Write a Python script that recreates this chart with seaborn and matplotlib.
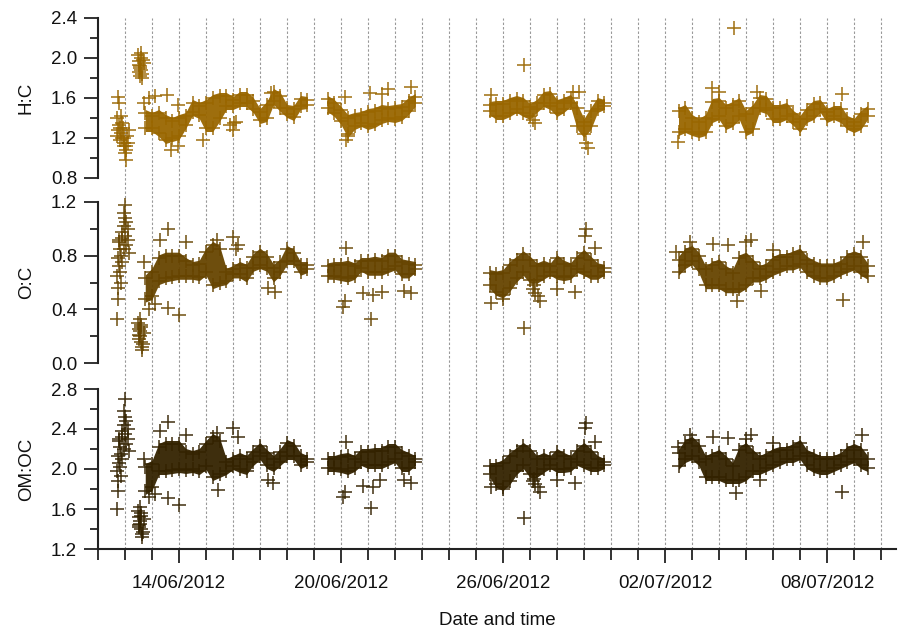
import numpy as np
import pandas as pd
import matplotlib
matplotlib.use("Agg")
import matplotlib.pyplot as plt
import seaborn as sns
from matplotlib.ticker import MultipleLocator, FixedLocator

# ---------------- data (time = days since 11/06/2012 00:00) ----------------
seg_start = [1.75, 8.5, 14.5, 21.5]
seg_end = [7.75, 11.75, 18.75, 28.5]

hc_lo = [1.30, 1.30, 1.25, 1.18, 1.20, 1.22, 1.33, 1.46, 1.43, 1.30, 1.30, 1.40, 1.52,
         1.52, 1.55, 1.55, 1.49, 1.38, 1.40, 1.57, 1.50, 1.44, 1.41, 1.52, 1.53,
         1.50, 1.45, 1.37, 1.24, 1.32, 1.35, 1.32, 1.34, 1.38, 1.40, 1.39, 1.41, 1.47, 1.55,
         1.47, 1.42, 1.42, 1.45, 1.49, 1.45, 1.42, 1.49, 1.55, 1.52, 1.45, 1.49, 1.55, 1.32,
         1.24, 1.32, 1.49, 1.52,
         1.26, 1.29, 1.26, 1.24, 1.26, 1.39, 1.42, 1.32, 1.35, 1.42, 1.26, 1.29, 1.50, 1.48,
         1.39, 1.39, 1.42, 1.36, 1.29, 1.39, 1.42, 1.49, 1.39, 1.42, 1.39, 1.32, 1.29, 1.32, 1.42]
hc_hi = [1.45, 1.42, 1.45, 1.40, 1.37, 1.40, 1.42, 1.55, 1.52, 1.55, 1.60, 1.62, 1.62,
         1.58, 1.63, 1.63, 1.57, 1.46, 1.53, 1.66, 1.62, 1.50, 1.49, 1.59, 1.58,
         1.59, 1.55, 1.48, 1.40, 1.42, 1.43, 1.46, 1.47, 1.50, 1.49, 1.50, 1.51, 1.57, 1.61,
         1.53, 1.54, 1.54, 1.57, 1.59, 1.57, 1.51, 1.55, 1.63, 1.64, 1.55, 1.57, 1.60, 1.50,
         1.36, 1.47, 1.57, 1.55,
         1.47, 1.50, 1.40, 1.36, 1.40, 1.56, 1.57, 1.50, 1.53, 1.57, 1.44, 1.50, 1.60, 1.59,
         1.50, 1.50, 1.52, 1.44, 1.39, 1.48, 1.54, 1.55, 1.46, 1.49, 1.49, 1.39, 1.36, 1.44, 1.49]

oc_lo = [0.48, 0.50, 0.61, 0.63, 0.64, 0.65, 0.65, 0.65, 0.64, 0.68, 0.58, 0.60, 0.61,
         0.66, 0.66, 0.63, 0.71, 0.73, 0.71, 0.63, 0.68, 0.76, 0.76, 0.68, 0.70,
         0.65, 0.65, 0.64, 0.63, 0.65, 0.71, 0.68, 0.68, 0.68, 0.70, 0.72, 0.66, 0.66, 0.70,
         0.58, 0.53, 0.51, 0.56, 0.63, 0.68, 0.62, 0.62, 0.65, 0.68, 0.65, 0.64, 0.65, 0.70,
         0.68, 0.65, 0.65, 0.68,
         0.68, 0.73, 0.76, 0.70, 0.58, 0.58, 0.58, 0.55, 0.55, 0.55, 0.58, 0.63, 0.63, 0.65,
         0.68, 0.70, 0.72, 0.72, 0.74, 0.68, 0.65, 0.63, 0.63, 0.65, 0.68, 0.70, 0.72, 0.68, 0.65]
oc_hi = [0.63, 0.68, 0.78, 0.80, 0.80, 0.80, 0.76, 0.73, 0.74, 0.83, 0.88, 0.85, 0.68,
         0.70, 0.73, 0.71, 0.79, 0.83, 0.79, 0.71, 0.75, 0.85, 0.82, 0.73, 0.73,
         0.72, 0.73, 0.73, 0.74, 0.72, 0.76, 0.76, 0.77, 0.76, 0.80, 0.80, 0.75, 0.74, 0.73,
         0.67, 0.66, 0.67, 0.73, 0.77, 0.81, 0.77, 0.72, 0.74, 0.72, 0.78, 0.74, 0.72, 0.78,
         0.82, 0.77, 0.72, 0.71,
         0.77, 0.83, 0.85, 0.80, 0.70, 0.73, 0.75, 0.70, 0.67, 0.78, 0.80, 0.75, 0.70, 0.72,
         0.77, 0.79, 0.79, 0.81, 0.83, 0.77, 0.74, 0.72, 0.72, 0.72, 0.74, 0.79, 0.81, 0.79, 0.72]

om_lo = [1.78, 1.82, 1.98, 1.98, 1.99, 2.00, 1.99, 2.00, 1.98, 2.03, 1.92, 1.95, 1.98,
         2.03, 2.00, 1.98, 2.07, 2.13, 2.04, 2.01, 2.07, 2.13, 2.13, 2.04, 2.07,
         2.01, 2.01, 2.00, 1.98, 2.01, 2.07, 2.04, 2.04, 2.04, 2.07, 2.10, 2.01, 2.01, 2.07,
         1.95, 1.85, 1.82, 1.88, 1.98, 2.04, 1.95, 1.95, 2.00, 2.04, 2.00, 2.00, 2.01, 2.07,
         2.04, 2.01, 2.01, 2.04,
         2.03, 2.10, 2.13, 2.07, 1.92, 1.92, 1.92, 1.89, 1.89, 1.89, 1.92, 1.98, 1.98, 2.01,
         2.04, 2.07, 2.10, 2.10, 2.13, 2.04, 2.00, 1.98, 1.98, 2.01, 2.04, 2.07, 2.10, 2.04, 2.01]
om_hi = [2.02, 2.05, 2.22, 2.25, 2.25, 2.25, 2.17, 2.15, 2.17, 2.25, 2.32, 2.28, 2.07,
         2.10, 2.13, 2.10, 2.17, 2.23, 2.16, 2.10, 2.17, 2.26, 2.23, 2.13, 2.10,
         2.10, 2.10, 2.12, 2.13, 2.10, 2.17, 2.17, 2.18, 2.18, 2.22, 2.22, 2.16, 2.13, 2.10,
         2.03, 2.03, 2.06, 2.13, 2.18, 2.23, 2.18, 2.10, 2.13, 2.10, 2.17, 2.13, 2.10, 2.18,
         2.23, 2.17, 2.10, 2.07,
         2.16, 2.26, 2.29, 2.23, 2.10, 2.13, 2.16, 2.10, 2.03, 2.19, 2.23, 2.16, 2.10, 2.13,
         2.17, 2.19, 2.19, 2.22, 2.26, 2.16, 2.13, 2.10, 2.10, 2.10, 2.13, 2.19, 2.22, 2.19, 2.10]

# scattered individual points (early bursts and outliers)
hc_pts_t = [0.74, 0.76, 0.72, 0.78, 0.75, 0.72, 0.80, 0.85, 0.88, 0.82, 0.90, 0.95, 0.98, 1.00,
            1.02, 1.05, 1.08, 1.10, 1.14, 0.86, 0.92, 0.97, 1.04,
            1.47, 1.52, 1.56, 1.59, 1.64, 1.69, 1.50, 1.58, 1.62, 1.55, 1.66, 1.57, 1.53, 1.61,
            2.57, 2.96, 5.0, 5.05, 9.14, 9.2, 9.25, 10.06, 10.74, 10.5, 11.58, 2.72, 2.95, 6.42,
            1.9, 2.1, 4.9, 5.1, 3.9, 1.7,
            14.57, 15.77, 16.1, 16.2, 17.6, 17.8, 18.13, 18.08,
            21.49, 22.75, 23.55, 27.57, 23.0, 24.4]
hc_pts_v = [1.61, 1.55, 1.40, 1.33, 1.28, 1.22, 1.18, 1.25, 1.35, 1.30, 1.20, 1.12, 1.15, 1.05,
            0.98, 1.08, 1.22, 1.15, 1.28, 1.42, 1.30, 1.20, 1.12,
            2.03, 1.97, 1.92, 1.88, 1.84, 1.95, 1.86, 2.00, 1.80, 1.90, 1.98, 1.82, 1.93, 2.05,
            1.63, 1.53, 1.28, 1.35, 1.61, 1.18, 1.22, 1.65, 1.69, 1.64, 1.71, 1.08, 1.12, 1.65,
            1.60, 1.62, 1.33, 1.36, 1.18, 1.55,
            1.63, 1.93, 1.38, 1.35, 1.66, 1.66, 1.10, 1.15,
            1.16, 1.70, 2.30, 1.64, 1.66, 1.66]

early_t = [0.72, 0.73, 0.75, 0.72, 0.78, 0.75, 0.80, 0.78, 0.85, 0.88, 0.90, 0.95, 1.00,
           1.00, 1.05, 1.05, 1.10, 1.10, 1.00, 0.95, 1.14, 0.90, 0.82, 0.85, 0.76, 0.98,
           1.47, 1.52, 1.56, 1.59, 1.64, 1.69, 1.50, 1.58, 1.62, 1.55, 1.66, 1.57, 1.53, 1.61]
oc_out_t = [2.6, 3.0, 2.6, 5.0, 5.19, 6.3, 6.54, 9.2, 9.14, 9.08, 10.1, 9.8, 10.19, 10.5, 11.6,
            11.33, 3.27, 1.9, 2.1, 1.7, 2.3, 4.4, 5.1,
            15.77, 14.57, 17.0, 17.66, 18.09, 18.03, 18.4, 16.36, 15.0, 16.1, 16.2, 16.3, 16.15,
            21.92, 22.78, 23.65, 23.34, 24.2, 25.0, 28.34, 27.6, 24.57, 21.4, 24.0]
oc_pts_v = [0.33, 0.48, 0.56, 0.65, 0.72, 0.78, 0.85, 0.90, 0.80, 0.93, 0.98, 1.02, 1.08,
            0.95, 1.05, 0.88, 0.92, 1.00, 1.18, 0.85, 0.82, 0.75, 0.68, 0.60, 0.92, 1.12,
            0.30, 0.25, 0.20, 0.16, 0.12, 0.22, 0.18, 0.28, 0.10, 0.24, 0.14, 0.33, 0.21, 0.27,
            1.00, 0.36, 0.41, 0.94, 0.88, 0.56, 0.53, 0.86, 0.46, 0.42, 0.33, 0.52, 0.51, 0.53,
            0.52, 0.54, 0.90, 0.40, 0.44, 0.75, 0.92, 0.92, 0.85,
            0.26, 0.45, 0.55, 0.53, 1.00, 0.95, 0.86, 0.46, 0.48, 0.55, 0.52, 0.50, 0.58,
            0.90, 0.89, 0.46, 0.88, 0.92, 0.84, 0.90, 0.47, 0.54, 0.83, 0.90]
om_out_t = [2.6, 3.0, 2.6, 5.0, 5.19, 6.3, 6.48, 9.2, 9.14, 9.08, 10.1, 9.8, 10.19, 10.43, 11.6,
            11.33, 3.27, 4.44, 1.9, 2.1, 1.7, 2.3, 4.4,
            15.77, 14.57, 17.0, 17.66, 18.09, 18.03, 18.4, 16.36, 15.0, 16.1, 16.2, 16.3, 16.15,
            21.49, 21.92, 22.78, 23.62, 23.34, 24.17, 25.0, 28.3, 27.57, 24.5, 24.0]
om_pts_v = [1.60, 1.78, 1.88, 1.98, 2.06, 2.13, 2.22, 2.28, 2.15, 2.32, 2.38, 2.44, 2.52,
            2.35, 2.48, 2.25, 2.30, 2.40, 2.70, 2.20, 2.18, 2.10, 2.02, 1.93, 2.30, 2.58,
            1.58, 1.52, 1.45, 1.40, 1.35, 1.50, 1.42, 1.56, 1.32, 1.48, 1.37, 1.62, 1.44, 1.53,
            2.47, 1.64, 1.71, 2.41, 2.32, 1.89, 1.86, 2.27, 1.77, 1.72, 1.61, 1.83, 1.82, 1.89,
            1.86, 1.89, 2.34, 1.79, 1.72, 1.75, 2.10, 2.38, 2.36,
            1.51, 1.82, 1.89, 1.86, 2.46, 2.41, 2.27, 1.77, 1.80, 1.88, 1.85, 1.82, 1.90,
            2.22, 2.34, 2.32, 1.76, 2.31, 2.34, 2.26, 2.34, 1.77, 1.89, 2.30]

tick_days = [3, 9, 15, 21, 27]
tick_labels = ["14/06/2012", "20/06/2012", "26/06/2012", "02/07/2012", "08/07/2012"]

colors = {"H:C": "#996600", "O:C": "#664400", "OM:OC": "#332200"}

# ---------------- figure ----------------
sns.set_theme(style="white")
plt.rcParams["font.family"] = ["Liberation Sans", "DejaVu Sans"]

W, H = 900, 629
fig = plt.figure(figsize=(W / 100, H / 100), dpi=100)
XMAX = (896 - 98) / 27.0
LEFT, RIGHT = 98, 896
MARK_HALF_PX = 3.5  # extra vertical extent of the dense '+' cloud around its envelope


def rect(top, bot):
    return [LEFT / W, 1 - bot / H, (RIGHT - LEFT) / W, (bot - top) / H]


bg = fig.add_axes(rect(18, 549), zorder=0)
bg.set_xlim(0, XMAX)
bg.axis("off")
for d in range(1, int(XMAX) + 1):
    bg.axvline(d, color="#999999", lw=0.8, ls=(0, (2.2, 1.8)))

grid_t = np.concatenate([np.arange(s, e + 0.01, 0.25) for s, e in zip(seg_start, seg_end)])
panels = [
    ("H:C", hc_lo, hc_hi, hc_pts_t, hc_pts_v, (0.8, 2.4), (18, 178)),
    ("O:C", oc_lo, oc_hi, early_t + oc_out_t, oc_pts_v, (0.0, 1.2), (202, 363)),
    ("OM:OC", om_lo, om_hi, early_t + om_out_t, om_pts_v, (1.2, 2.8), (389, 549)),
]

axes = []
for name, lo, hi, pt, pv, ylim, (top, bot) in panels:
    ax = fig.add_axes(rect(top, bot), zorder=2)
    ax.patch.set_alpha(0)
    col = colors[name]
    lo = np.asarray(lo)
    hi = np.asarray(hi)
    pad = MARK_HALF_PX * (ylim[1] - ylim[0]) / (bot - top)
    for s, e in zip(seg_start, seg_end):
        m = (grid_t >= s - 1e-6) & (grid_t <= e + 1e-6)
        ax.fill_between(grid_t[m], lo[m] - pad, hi[m] + pad, color=col, lw=0, alpha=0.95)
    df = pd.DataFrame({
        "t": np.concatenate([grid_t, grid_t, np.asarray(pt)]),
        "v": np.concatenate([lo, hi, np.asarray(pv)]),
    })
    sns.scatterplot(data=df, x="t", y="v", marker="+", s=115, color=col,
                    linewidth=1.15, alpha=0.9, ax=ax, clip_on=False, legend=False)
    ax.set_xlim(0, XMAX)
    ax.set_ylim(*ylim)
    ax.yaxis.set_major_locator(MultipleLocator(0.4))
    ax.yaxis.set_minor_locator(MultipleLocator(0.2))
    for sp in ["top", "right", "bottom"]:
        ax.spines[sp].set_visible(False)
    ax.spines["left"].set_linewidth(1.5)
    ax.spines["left"].set_color("#222222")
    ax.tick_params(axis="y", which="major", direction="out", length=10, width=1.3,
                   color="#222222", pad=5, labelsize=13.5, labelcolor="#111111", left=True)
    ax.tick_params(axis="y", which="minor", direction="out", length=5.5, width=1.3,
                   color="#222222", left=True)
    ax.tick_params(axis="x", which="both", bottom=False, labelbottom=False)
    ax.set_xlabel("")
    ax.set_ylabel(name, fontsize=13.5, color="#111111")
    ax.yaxis.set_label_coords(-0.079, 0.5)
    ax.grid(False)
    axes.append(ax)

axb = axes[-1]
axb.spines["bottom"].set_visible(True)
axb.spines["bottom"].set_linewidth(1.5)
axb.spines["bottom"].set_color("#222222")
axb.xaxis.set_major_locator(FixedLocator(tick_days))
axb.xaxis.set_minor_locator(MultipleLocator(1))
axb.set_xticklabels(tick_labels)
axb.tick_params(axis="x", which="major", bottom=True, labelbottom=True, direction="out",
                length=10, width=1.3, color="#222222", pad=9, labelsize=13.5,
                labelcolor="#111111")
axb.tick_params(axis="x", which="minor", bottom=True, direction="out", length=8,
                width=1.3, color="#222222")
axb.set_xlabel("Date and time", fontsize=13.5, color="#111111", labelpad=14)

fig.savefig("out.png", dpi=100)
